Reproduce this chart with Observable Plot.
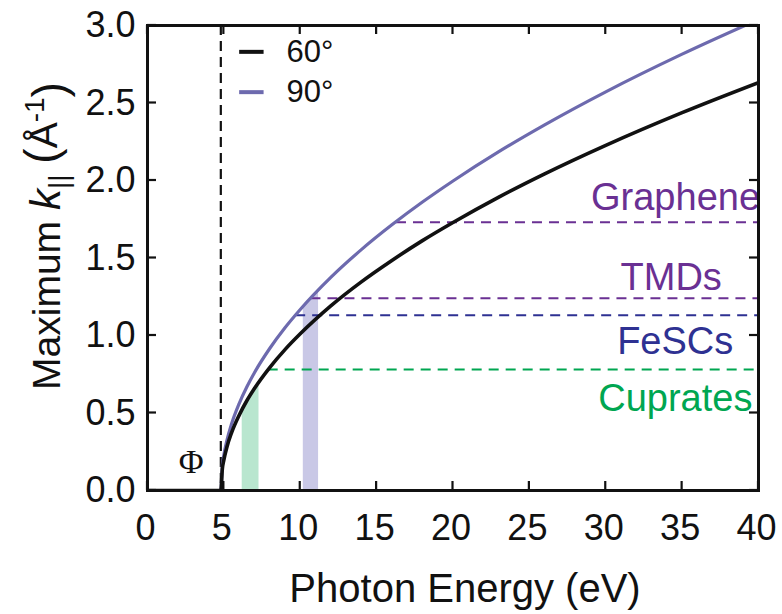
<!DOCTYPE html>
<html><head><meta charset="utf-8">
<script src="https://cdn.jsdelivr.net/npm/d3@7"></script>
<script src="https://cdn.jsdelivr.net/npm/@observablehq/plot@0.6"></script>
<style>body{margin:0;background:#fff}</style>
</head><body><div id="chart"></div>
<script>
// Photon energy (eV) sample points
const energy = [0, 4.8, 4.9, 5.0, 5.2, 5.5, 6, 6.5, 7, 8, 9, 10, 12, 14, 16, 18, 20, 23, 26, 30, 35, 40];
// Maximum k|| (1/Å) for emission angle 60°
const k60 = [0, 0, 0.140, 0.198, 0.281, 0.372, 0.486, 0.579, 0.658, 0.793, 0.909, 1.011, 1.191, 1.346, 1.484, 1.612, 1.729, 1.893, 2.043, 2.227, 2.438, 2.632];
// Maximum k|| (1/Å) for emission angle 90°
const k90 = [0, 0, 0.162, 0.229, 0.324, 0.429, 0.561, 0.668, 0.760, 0.916, 1.050, 1.168, 1.375, 1.554, 1.714, 1.861, 1.997, 2.186, 2.359, 2.572, 2.815, 3.039];
const seriesNames = ["60°", "90°"];
const seriesColors = ["#111111", "#6d6aae"];

// work function
const phi = 4.8;

// highlighted photon-energy windows (laser sources)
const greenBandE = [6.2, 6.5, 7.0, 7.3];
const greenBandK = [0.525, 0.578, 0.658, 0.702];
const purpleBandE = [10.2, 10.7, 11.2];
const purpleBandK = [1.190, 1.244, 1.296];

// material k|| requirements
const materialNames = ["Graphene", "TMDs", "FeSCs", "Cuprates"];
const materialK = [1.73, 1.24, 1.13, 0.78];
const materialStartE = [16.3, 10.7, 9.7, 7.9];
const materialEndE = [40, 40, 40, 40];
const materialColors = ["#6a3093", "#6a3093", "#2e3192", "#00a651"];
const materialLabelE = [40.1, 37.6, 38.35, 39.6];
const materialLabelK = [1.89, 1.375, 0.957, 0.594];

const xTicks = [0, 5, 10, 15, 20, 25, 30, 35, 40];
const yTicks = [0, 0.5, 1.0, 1.5, 2.0, 2.5, 3.0];

const curves = [];
seriesNames.forEach((s, j) => {
  const ks = j === 0 ? k60 : k90;
  energy.forEach((e, i) => curves.push({E: e, k: ks[i], series: s}));
});
const green = greenBandE.map((e, i) => ({E: e, k: greenBandK[i]}));
const purple = purpleBandE.map((e, i) => ({E: e, k: purpleBandK[i]}));
const materials = materialNames.map((n, i) => ({
  name: n, k: materialK[i], start: materialStartE[i], end: materialEndE[i],
  color: materialColors[i], lx: materialLabelE[i], ly: materialLabelK[i]
}));
const legendRows = seriesNames.map((s, i) => ({
  name: s, color: seriesColors[i], x1: 6.0, x2: 7.6, tx: 9.1, y: [2.83, 2.57][i]
}));

const font = "'Liberation Sans', Arial, Helvetica, sans-serif";

const chart = Plot.plot({
  width: 782,
  height: 614,
  marginLeft: 147,
  marginRight: 24,
  marginTop: 25,
  marginBottom: 124,
  style: {fontFamily: font, background: "#fff", color: "#111"},
  x: {domain: [0, 40]},
  y: {domain: [0, 3]},
  marks: [
    Plot.areaY(green, {x: "E", y: "k", fill: "#b9e6cf"}),
    Plot.areaY(purple, {x: "E", y: "k", fill: "#c9c8e6"}),
    Plot.ruleY(materials, {y: "k", x1: "start", x2: "end", stroke: "color", strokeWidth: 2, strokeDasharray: "10,7"}),
    Plot.ruleX([phi], {x: d => d, stroke: "#111", strokeWidth: 2.2, strokeDasharray: "10,6"}),
    Plot.line(curves.filter(d => d.series === "90°"), {x: "E", y: "k", stroke: seriesColors[1], strokeWidth: 3.2, curve: "monotone-x", clip: true}),
    Plot.line(curves.filter(d => d.series === "60°"), {x: "E", y: "k", stroke: seriesColors[0], strokeWidth: 3.6, curve: "monotone-x", clip: true}),
    Plot.text(materials, {x: "lx", y: "ly", text: "name", fill: "color", textAnchor: "end", fontSize: 38}),
    Plot.text(["Φ"], {x: () => 2.86, y: () => 0.18, text: d => d, fontSize: 34, fontFamily: "'Liberation Serif', 'DejaVu Serif', serif", fill: "#111"}),
    Plot.link(legendRows, {x1: "x1", x2: "x2", y1: "y", y2: "y", stroke: "color", strokeWidth: 4}),
    Plot.text(legendRows, {x: "tx", y: "y", text: "name", textAnchor: "start", fontSize: 31, fill: "#111"}),
    Plot.axisX(xTicks, {anchor: "bottom", tickSize: 0, tickPadding: 24, fontSize: 36, dx: -2, label: null}),
    Plot.axisY(yTicks, {anchor: "left", tickSize: 0, tickPadding: 12, fontSize: 36, tickFormat: d3.format(".1f"), label: null}),
    Plot.frame({stroke: "#111", strokeWidth: 3})
  ]
});

document.getElementById("chart").appendChild(chart);

const svg = d3.select(chart);
// inward tick marks on all four sides, positioned with Plot's own scales
const sx = chart.scale("x"), sy = chart.scale("y");
const X = v => sx.apply(v), Y = v => sy.apply(v);
const xr = sx.range, yr = sy.range;
const xLeft = Math.min(xr[0], xr[1]), xRight = Math.max(xr[0], xr[1]);
const yTop = Math.min(yr[0], yr[1]), yBottom = Math.max(yr[0], yr[1]);
const tl = 9;
const tg = svg.append("g").attr("stroke", "#111").attr("stroke-width", 2.2);
xTicks.forEach(t => {
  tg.append("line").attr("x1", X(t)).attr("x2", X(t)).attr("y1", yBottom).attr("y2", yBottom - tl);
  tg.append("line").attr("x1", X(t)).attr("x2", X(t)).attr("y1", yTop).attr("y2", yTop + tl);
});
yTicks.forEach(t => {
  tg.append("line").attr("y1", Y(t)).attr("y2", Y(t)).attr("x1", xLeft).attr("x2", xLeft + tl);
  tg.append("line").attr("y1", Y(t)).attr("y2", Y(t)).attr("x1", xRight).attr("x2", xRight - tl);
});

svg.append("text")
  .attr("x", 465).attr("y", 602)
  .attr("text-anchor", "middle")
  .style("font-family", font).style("font-size", "40px").attr("fill", "#111")
  .text("Photon Energy (eV)");

const yl = svg.append("text")
  .attr("transform", "translate(60,236) rotate(-90)")
  .attr("text-anchor", "middle")
  .style("font-family", font).style("font-size", "39px").attr("fill", "#111");
yl.append("tspan").text("Maximum ");
yl.append("tspan").style("font-style", "italic").style("font-size", "42px").text("k");
yl.append("tspan").attr("dy", "0.3em").style("font-size", "28px").text("||");
yl.append("tspan").attr("dy", "-0.3em").text(" ");
yl.append("tspan").style("font-size", "46px").text("(");
yl.append("tspan").text("Å");
yl.append("tspan").attr("dy", "-0.45em").style("font-size", "28px").text("-1");
yl.append("tspan").attr("dy", "0.45em").style("font-size", "46px").text(")");
</script>
</body></html>
